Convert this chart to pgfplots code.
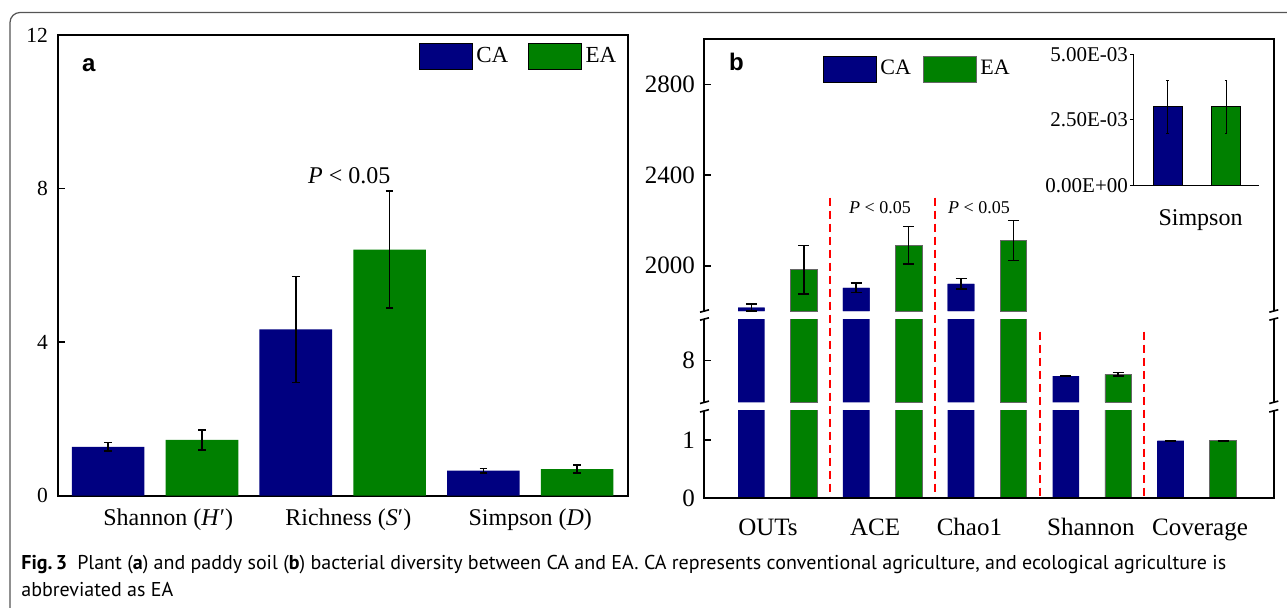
\documentclass[border=0pt]{standalone}
\usepackage{fontspec}
\setmainfont{Liberation Serif}
\newfontfamily\sansf{Liberation Sans}
\newfontfamily\capf{PT Sans}
\usepackage{pgfplots}
\usepackage{pgfplotstable}
\pgfplotsset{compat=1.18}
\definecolor{caC}{RGB}{0,0,128}
\definecolor{eaC}{RGB}{0,128,0}
\definecolor{frameC}{RGB}{85,85,85}

% ---------- panel a data ----------
\pgfplotstableread{
x y e
-0.25 1.27 0.11
0.75 4.33 1.38
1.75 0.65 0.06
}\aCA
\pgfplotstableread{
x y e
0.25 1.45 0.26
1.25 6.41 1.53
2.25 0.69 0.10
}\aEA
% ---------- panel b data ----------
\pgfplotstableread{
x y e
-0.25 1815 15
0.75 1902 21
1.75 1920 23
2.75 7.63 0.01
3.75 0.99 0.004
}\bCA
\pgfplotstableread{
x y e
0.25 1982 107
1.25 2090 83
2.25 2112 88
3.25 7.67 0.04
4.25 0.99 0.004
}\bEA
% ---------- inset (Simpson) ----------
\pgfplotstableread{
x y e
0 0.0030 0.0010
}\sCA
\pgfplotstableread{
x y e
1 0.0030 0.0010
}\sEA

\pgfplotsset{
  barA/.style={ybar, bar shift=0pt, bar width=0.387, draw=none},
  errA/.style={error bars/y dir=both, error bars/y explicit,
     error bars/error bar style={black, line width=0.75pt},
     error bars/error mark options={rotate=90, black, line width=0.75pt, mark size=1.9pt}},
  barB/.style={ybar, bar shift=0pt, bar width=0.254},
  errB/.style={error bars/y dir=both, error bars/y explicit,
     error bars/error bar style={black, line width=0.75pt},
     error bars/error mark options={rotate=90, black, line width=0.75pt, mark size=2.75pt}},
  bseg/.style={scale only axis, width=285.15pt, anchor=south west,
     xmin=-0.702, xmax=4.739, axis line style={draw=none},
     ytick pos=left, tick align=inside, major tick length=3.5pt,
     tick style={black, line width=0.8pt}, xtick=\empty, clip mode=individual,
     yticklabel style={font=\fontsize{12.5}{14}\selectfont, xshift=-1pt},
     /pgf/number format/assume math mode=true, /pgf/number format/1000 sep={}},
  legimg/.style={legend image code/.code={\draw[##1] (0pt,-6.5pt) rectangle (26.25pt,6.5pt);}},
}

\begin{document}
\begin{tikzpicture}
\useasboundingbox (0,0) rectangle (643.5pt,303.5pt);
% frame
\draw[frameC, line width=0.6pt, rounded corners=5pt] (5pt,-20pt) -- (5pt,297.25pt) -- (700pt,297.25pt);

% ================= panel a =================
\begin{axis}[
  at={(28.85pt,55.75pt)}, anchor=south west, scale only axis,
  width=285.15pt, height=230.25pt,
  xmin=-0.519, xmax=2.521, ymin=0, ymax=12,
  ytick={0,4,8,12}, ytick pos=left, tick align=inside, major tick length=3.5pt,
  tick style={black, line width=0.8pt},
  xtick={0.07,1.03,2.0},
  xticklabels={Shannon (\textit{H}′), Richness (\textit{S}′), Simpson (\textit{D})},
  xtick style={draw=none},
  axis line style={line width=1pt},
  yticklabel style={font=\fontsize{10.75}{12}\selectfont, xshift=-1.4pt},
  xticklabel style={font=\fontsize{12}{14}\selectfont, text height=8.5pt, text depth=2.5pt, yshift=-3pt},
  /pgf/number format/assume math mode=true,
  legimg, legend columns=2,
  legend style={draw=none, fill=none, at={(rel axis cs:0.81,0.954)}, anchor=center,
     font=\fontsize{11.5}{13}\selectfont, /tikz/every even column/.append style={column sep=8pt}},
]
\addplot[barA, fill=caC, errA] table[x=x,y=y,y error=e]{\aCA};
\addplot[barA, fill=eaC, errA] table[x=x,y=y,y error=e]{\aEA};
\legend{CA,EA}
\node[anchor=base west, inner sep=0, font=\sansf\bfseries\fontsize{12}{14}\selectfont] at (rel axis cs:0.042,0.920) {a};
\node[anchor=base, inner sep=0, font=\fontsize{12}{14}\selectfont] at (axis cs:1.035,8.12) {\textit{P} < 0.05};
\end{axis}

% ================= panel b : top segment =================
\begin{axis}[bseg, at={(352pt,148pt)}, height=135.85pt, ymin=1800, ymax=3000,
  ytick={2000,2400,2800}, legimg, legend columns=2,
  legend style={draw=none, fill=none, at={(rel axis cs:0.376,0.891)}, anchor=center,
     font=\fontsize{11}{13}\selectfont, /tikz/every even column/.append style={column sep=4pt}}]
\addplot[barB, fill=caC, draw=none, restrict y to domain=1700:100000] table[x=x,y=y]{\bCA};
\addplot[barB, fill=eaC, draw=black!60, line width=0.4pt, restrict y to domain=1700:100000] table[x=x,y=y]{\bEA};
\legend{CA,EA}
\addplot[barB, fill=caC, draw=none, forget plot, restrict y to domain=1800:3000, errB] table[x=x,y=y,y error=e]{\bCA};
\addplot[barB, fill=eaC, draw=black!60, line width=0.4pt, forget plot, restrict y to domain=1800:3000, errB] table[x=x,y=y,y error=e]{\bEA};
\draw[line width=1pt] (rel axis cs:0,0) -- (rel axis cs:0,1) -- (rel axis cs:1,1) -- (rel axis cs:1,0);
\draw[line width=0.8pt] ([shift={(-2pt,-0.6pt)}]rel axis cs:0,0) -- ([shift={(2.5pt,0.6pt)}]rel axis cs:0,0);
\draw[line width=0.8pt] ([shift={(-2.5pt,-0.6pt)}]rel axis cs:1,0) -- ([shift={(2pt,0.6pt)}]rel axis cs:1,0);
\draw[red, line width=1pt, dash pattern=on 4pt off 2.5pt] (axis cs:0.5,2301) -- (axis cs:0.5,974);
\draw[red, line width=1pt, dash pattern=on 4pt off 2.5pt] (axis cs:1.5,2301) -- (axis cs:1.5,974);
\draw[red, line width=1pt, dash pattern=on 4pt off 2.5pt] (axis cs:2.5,1709) -- (axis cs:2.5,974);
\draw[red, line width=1pt, dash pattern=on 4pt off 2.5pt] (axis cs:3.5,1709) -- (axis cs:3.5,974);
\node[anchor=base west, inner sep=0, font=\sansf\bfseries\fontsize{12}{14}\selectfont] at (rel axis cs:0.0433,0.884) {b};
\node[anchor=base, inner sep=0, font=\fontsize{9}{11}\selectfont] at (axis cs:0.977,2231) {\textit{P} < 0.05};
\node[anchor=base, inner sep=0, font=\fontsize{9}{11}\selectfont] at (axis cs:1.922,2231) {\textit{P} < 0.05};
\end{axis}

% ================= panel b : middle segment =================
\begin{axis}[bseg, at={(352pt,102.35pt)}, height=41.65pt, ymin=7, ymax=9, ytick={8}]
\addplot[barB, fill=caC, draw=none, y filter/.expression={min(y,10)}, restrict y to domain=6:100000] table[x=x,y=y]{\bCA};
\addplot[barB, fill=eaC, draw=black!60, line width=0.4pt, y filter/.expression={min(y,10)}, restrict y to domain=6:100000] table[x=x,y=y]{\bEA};
\addplot[barB, fill=caC, draw=none, restrict y to domain=7:9, errB] table[x=x,y=y,y error=e]{\bCA};
\addplot[barB, fill=eaC, draw=black!60, line width=0.4pt, restrict y to domain=7:9, errB] table[x=x,y=y,y error=e]{\bEA};
\draw[line width=1pt] (rel axis cs:0,0) -- (rel axis cs:0,1);
\draw[line width=1pt] (rel axis cs:1,0) -- (rel axis cs:1,1);
\draw[line width=0.8pt] ([shift={(-2pt,-0.6pt)}]rel axis cs:0,0) -- ([shift={(2.5pt,0.6pt)}]rel axis cs:0,0);
\draw[line width=0.8pt] ([shift={(-2pt,-0.6pt)}]rel axis cs:0,1) -- ([shift={(2.5pt,0.6pt)}]rel axis cs:0,1);
\draw[line width=0.8pt] ([shift={(-2.5pt,-0.6pt)}]rel axis cs:1,0) -- ([shift={(2pt,0.6pt)}]rel axis cs:1,0);
\draw[line width=0.8pt] ([shift={(-2.5pt,-0.6pt)}]rel axis cs:1,1) -- ([shift={(2pt,0.6pt)}]rel axis cs:1,1);
\end{axis}

% ================= panel b : bottom segment =================
\begin{axis}[bseg, at={(352pt,54.35pt)}, height=43.725pt, ymin=0, ymax=1.5, ytick={0,1},
  xtick={-0.092,0.93,1.83,2.99,4.03}, xticklabels={OUTs,ACE,Chao1,Shannon,Coverage},
  xtick style={draw=none},
  xticklabel style={font=\fontsize{12.5}{14}\selectfont, text height=8.5pt, text depth=2.5pt, yshift=-6.8pt}]
\addplot[barB, fill=caC, draw=none, y filter/.expression={min(y,2)}] table[x=x,y=y]{\bCA};
\addplot[barB, fill=eaC, draw=black!60, line width=0.4pt, y filter/.expression={min(y,2)}] table[x=x,y=y]{\bEA};
\addplot[barB, fill=caC, draw=none, restrict y to domain=0:1.5, errB] table[x=x,y=y,y error=e]{\bCA};
\addplot[barB, fill=eaC, draw=black!60, line width=0.4pt, restrict y to domain=0:1.5, errB] table[x=x,y=y,y error=e]{\bEA};
\draw[line width=1pt] (rel axis cs:0,1) -- (rel axis cs:0,0) -- (rel axis cs:1,0) -- (rel axis cs:1,1);
\draw[line width=0.8pt] ([shift={(-2pt,-0.6pt)}]rel axis cs:0,1) -- ([shift={(2.5pt,0.6pt)}]rel axis cs:0,1);
\draw[line width=0.8pt] ([shift={(-2.5pt,-0.6pt)}]rel axis cs:1,1) -- ([shift={(2pt,0.6pt)}]rel axis cs:1,1);
\end{axis}

% ================= inset =================
\begin{axis}[at={(566.65pt,210.75pt)}, anchor=south west, scale only axis,
  width=62.85pt, height=65.6pt, xmin=-0.586, xmax=1.564, ymin=0, ymax=0.005,
  axis x line=bottom, axis y line=left, axis line style={-, line width=0.6pt},
  ytick={0,0.0025,0.005}, yticklabels={0.00E+00,2.50E-03,5.00E-03},
  scaled y ticks=false, tick align=outside, major tick length=1.5pt,
  tick style={black, line width=0.5pt},
  xtick={0.564}, xticklabels={Simpson}, xtick style={draw=none},
  yticklabel style={font=\fontsize{10.5}{12}\selectfont, inner sep=1pt},
  xticklabel style={font=\fontsize{12}{14}\selectfont, text height=8.5pt, yshift=-6.6pt},
]
\addplot[ybar, bar shift=0pt, bar width=0.496, fill=caC, draw=black, line width=0.5pt,
  error bars/y dir=both, error bars/y explicit,
  error bars/error bar style={black, line width=0.5pt},
  error bars/error mark options={rotate=90, black, line width=0.5pt, mark size=0.6pt}] table[x=x,y=y,y error=e]{\sCA};
\addplot[ybar, bar shift=0pt, bar width=0.496, fill=eaC, draw=black, line width=0.5pt,
  error bars/y dir=both, error bars/y explicit,
  error bars/error bar style={black, line width=0.5pt},
  error bars/error mark options={rotate=90, black, line width=0.5pt, mark size=0.6pt}] table[x=x,y=y,y error=e]{\sEA};
\end{axis}

% ================= caption =================
\node[anchor=base west, inner sep=0, font=\capf\fontsize{10}{12}\selectfont] at (10.5pt,18.85pt)
  {\textbf{Fig.\,3}\hspace{5pt}Plant (\textbf{a}) and paddy soil (\textbf{b}) bacterial diversity between CA and EA. CA represents conventional agriculture, and ecological agriculture is};
\node[anchor=base west, inner sep=0, font=\capf\fontsize{10}{12}\selectfont] at (10.5pt,5.5pt)
  {abbreviated as EA};
\end{tikzpicture}
\end{document}
